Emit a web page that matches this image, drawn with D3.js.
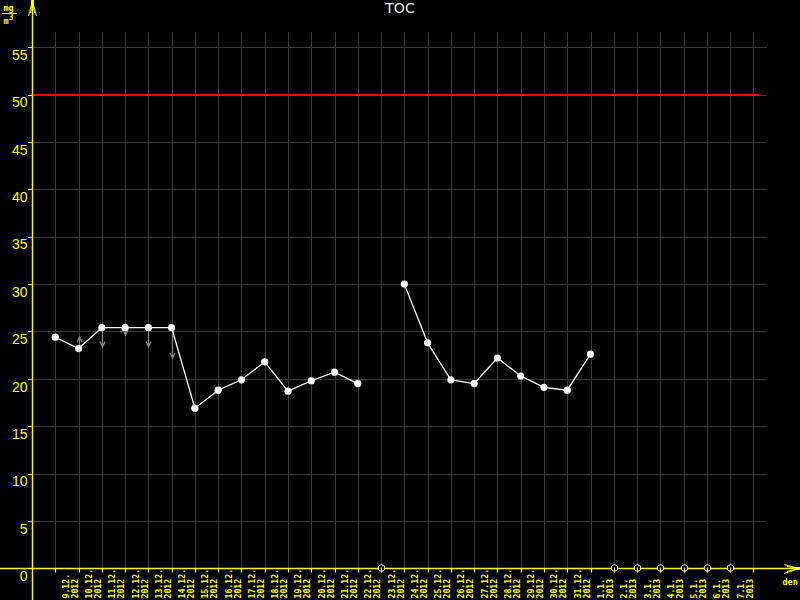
<!DOCTYPE html>
<html><head><meta charset="utf-8">
<script src="https://cdn.jsdelivr.net/npm/d3@7"></script>
<style>html,body{margin:0;padding:0;background:#000;}svg{display:block;}</style>
</head><body>
<svg id="c" width="800" height="600"></svg>
<script>
// ---- data ----
const title = "TOC";
const dayLabels = ["9.12.","10.12.","11.12.","12.12.","13.12.","14.12.","15.12.","16.12.","17.12.","18.12.","19.12.","20.12.","21.12.","22.12.","23.12.","24.12.","25.12.","26.12.","27.12.","28.12.","29.12.","30.12.","31.12.","1.1.","2.1.","3.1.","4.1.","5.1.","6.1.","7.1."];
const yearLabels = ["2012","2012","2012","2012","2012","2012","2012","2012","2012","2012","2012","2012","2012","2012","2012","2012","2012","2012","2012","2012","2012","2012","2012","2013","2013","2013","2013","2013","2013","2013"];
const values = [24.4, 23.2, 25.4, 25.4, 25.4, 25.4, 16.9, 18.8, 19.9, 21.8, 18.7, 19.8, 20.7, 19.5, null, 30.0, 23.8, 19.9, 19.5, 22.2, 20.3, 19.1, 18.8, 22.6, null, null, null, null, null, null];
const arrowDays = [1, 2, 3, 4, 5];
const arrowEnds = [24.4, 23.4, 24.6, 23.4, 22.2];
const yTicks = [0, 5, 10, 15, 20, 25, 30, 35, 40, 45, 50, 55];
const limitValue = 50;
const xUnit = "den";

// ---- scales ----
const svg = d3.select("#c");
const x = d3.scaleLinear().domain([-1, 30]).range([32, 753.4]);
const y = d3.scaleLinear().domain([0, 55]).range([568.3, 47.3]);
const yellow = "#ffff00", grid = "#3a3a3a";

svg.append("rect").attr("width", 800).attr("height", 600).attr("fill", "#000");

// grid
const gv = d3.range(0, 31);
svg.append("g").selectAll("line").data(gv).join("line")
  .attr("x1", d => Math.round(x(d)) + 0.5).attr("x2", d => Math.round(x(d)) + 0.5)
  .attr("y1", 32).attr("y2", Math.round(y(0)))
  .attr("stroke", grid).attr("stroke-width", 1);
svg.append("g").selectAll("line").data(yTicks.filter(d => d > 0)).join("line")
  .attr("x1", 32).attr("x2", 767)
  .attr("y1", d => Math.round(y(d)) + 0.5).attr("y2", d => Math.round(y(d)) + 0.5)
  .attr("stroke", grid).attr("stroke-width", 1);

// limit line
svg.append("line").attr("x1", 32).attr("x2", 759)
  .attr("y1", Math.round(y(limitValue))).attr("y2", Math.round(y(limitValue)))
  .attr("stroke", "#ff0000").attr("stroke-width", 2);

// axes
const y0 = Math.round(y(0)) + 0.5;
svg.append("line").attr("x1", 0).attr("x2", 798).attr("y1", y0).attr("y2", y0).attr("stroke", yellow).attr("stroke-width", 1.5);
svg.append("line").attr("x1", 32.5).attr("x2", 32.5).attr("y1", 0).attr("y2", 600).attr("stroke", yellow).attr("stroke-width", 1.5);
// y-arrow
[[28,16],[30,13],[34,13],[36,16]].forEach(p => svg.append("line").attr("x1", 32.5).attr("y1", 1).attr("x2", p[0]+0.5).attr("y2", p[1]).attr("stroke", yellow).attr("stroke-width", 1));
svg.append("rect").attr("x", 31).attr("y", 0).attr("width", 3).attr("height", 6).attr("fill", yellow);
// x-arrow
[[784,564],[787,566],[787,571],[784,573]].forEach(p => svg.append("line").attr("x1", 799).attr("y1", y0).attr("x2", p[0]).attr("y2", p[1]+0.5).attr("stroke", yellow).attr("stroke-width", 1));
svg.append("rect").attr("x", 794).attr("y", y0 - 1.5).attr("width", 6).attr("height", 3).attr("fill", yellow);

// y ticks & labels
const yg = svg.append("g");
yg.selectAll("line").data(yTicks).join("line")
  .attr("x1", 28).attr("x2", 32).attr("y1", d => Math.round(y(d)) + 0.5).attr("y2", d => Math.round(y(d)) + 0.5)
  .attr("stroke", yellow).attr("stroke-width", 1);
yg.selectAll("text").data(yTicks).join("text")
  .attr("x", 27.5).attr("y", d => y(d) + 12.7).attr("text-anchor", "end")
  .attr("fill", yellow).attr("font-family", "Liberation Sans, Arial, sans-serif").attr("font-size", 14)
  .text(d => d);

// x ticks
svg.append("g").selectAll("line").data(gv).join("line")
  .attr("x1", d => Math.round(x(d)) + 0.5).attr("x2", d => Math.round(x(d)) + 0.5)
  .attr("y1", y0).attr("y2", y0 + 4).attr("stroke", yellow).attr("stroke-width", 1.2);

// x labels (rotated)
const xl = svg.append("g").attr("font-family", "DejaVu Sans Mono, monospace").attr("font-size", 8.2)
  .attr("font-weight", "bold").attr("fill", yellow);
dayLabels.forEach((lab, i) => {
  const bx1 = x(i) + 13.5, bx2 = x(i) + 22.5, by = 598.5;
  xl.append("text").attr("transform", `translate(${bx1},${by}) rotate(-90)`).text(lab);
  xl.append("text").attr("transform", `translate(${bx2},${by}) rotate(-90)`).text(yearLabels[i]);
});

// arrows
const arrows = arrowDays.map((d, k) => ({d, v0: values[d], v1: arrowEnds[k]}));
const ag = svg.append("g").attr("stroke", "#8a8a8a").attr("fill", "none").attr("stroke-width", 1.2);
arrows.forEach(a => {
  const xx = Math.round(x(a.d)) + 0.5, ya = y(a.v0), yb = y(a.v1);
  const dir = yb > ya ? 1 : -1;
  ag.append("line").attr("x1", xx).attr("x2", xx).attr("y1", ya).attr("y2", yb);
  ag.append("path").attr("d", `M${xx-2.5},${yb - dir*5}L${xx},${yb}L${xx+2.5},${yb - dir*5}`);
});

// line
const pts = values.map((v, i) => ({i, v}));
svg.append("path").datum(pts)
  .attr("d", d3.line().defined(d => d.v !== null).x(d => x(d.i)).y(d => y(d.v)))
  .attr("fill", "none").attr("stroke", "#fff").attr("stroke-width", 1.3);
svg.append("g").selectAll("circle").data(pts.filter(d => d.v !== null)).join("circle")
  .attr("cx", d => x(d.i)).attr("cy", d => y(d.v)).attr("r", 3.6).attr("fill", "#fff");

// missing markers
const mg = svg.append("g");
pts.filter(d => d.v === null).forEach(d => {
  const xx = Math.round(x(d.i)) + 0.5;
  mg.append("circle").attr("cx", xx).attr("cy", y0 - 0.5).attr("r", 3.3).attr("fill", "#000").attr("stroke", "#fff").attr("stroke-width", 1);
  mg.append("line").attr("x1", xx).attr("x2", xx).attr("y1", y0 - 1).attr("y2", y0 + 4).attr("stroke", yellow).attr("stroke-width", 1);
});

// title
svg.append("text").attr("x", 400).attr("y", 13.3).attr("text-anchor", "middle")
  .attr("fill", "#ececec").attr("font-family", "DejaVu Sans, sans-serif").attr("font-size", 14).text(title);

// unit label
const ug = svg.append("g").attr("fill", yellow).attr("font-family", "DejaVu Sans Mono, monospace").attr("font-weight", "bold");
ug.append("text").attr("x", 8.5).attr("y", 11).attr("text-anchor", "middle").attr("font-size", 8.5).text("mg");
ug.append("line").attr("x1", 2).attr("x2", 17).attr("y1", 13.5).attr("y2", 13.5).attr("stroke", yellow).attr("stroke-width", 1);
const um = ug.append("text").attr("x", 3.5).attr("y", 23.5).attr("font-size", 8.5);
um.append("tspan").text("m");
um.append("tspan").attr("dy", -3.5).attr("font-size", 8).text("3");

// x unit
svg.append("text").attr("x", 782.5).attr("y", 584.5).attr("fill", yellow).attr("font-weight", "bold")
  .attr("font-family", "DejaVu Sans Mono, monospace").attr("font-size", 8.5).text(xUnit);
</script>
</body></html>
